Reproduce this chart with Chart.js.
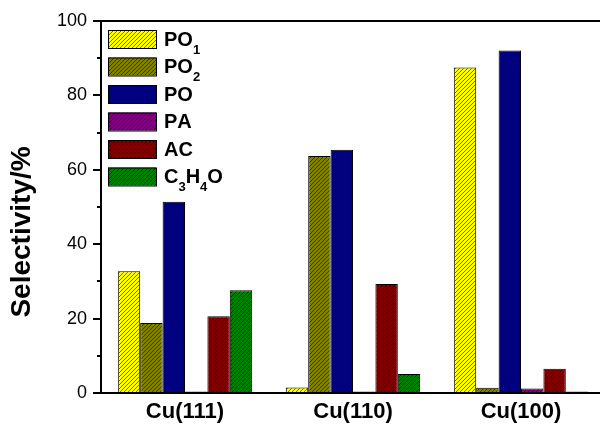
<!DOCTYPE html>
<html>
<head>
<meta charset="utf-8">
<script src="https://cdn.jsdelivr.net/npm/chart.js@4/dist/chart.umd.min.js"></script>
<style>
  html, body { margin: 0; padding: 0; background: #fff; overflow: hidden; width: 600px; height: 425px; }
  #wrap { width: 610px; height: 425px; }
</style>
</head>
<body>
<div id="wrap"><canvas id="c" width="610" height="425"></canvas></div>
<script>
// ---- data ----
const categories = ['Cu(111)', 'Cu(110)', 'Cu(100)'];
const seriesLabels = ['PO₁', 'PO₂', 'PO', 'PA', 'AC', 'C₃H₄O'];
const PO1   = [32.7, 1.5, 87.5];
const PO2   = [18.8, 63.7, 1.4];
const PO    = [51.4, 65.4, 92.1];
const PA    = [0.4, 0.4, 1.2];
const AC    = [20.6, 29.3, 6.5];
const C3H4O = [27.6, 5.1, 0.4];
const yTicks = [0, 20, 40, 60, 80, 100];
const yMinorTicks = [10, 30, 50, 70, 90];
const yTitle = 'Selectivity/%';

const FONT = '"Liberation Sans", Arial, sans-serif';

function hatch(bg, line) {
  const s = 4;
  const c = document.createElement('canvas');
  c.width = s; c.height = s;
  const g = c.getContext('2d');
  g.fillStyle = bg; g.fillRect(0, 0, s, s);
  g.strokeStyle = line; g.lineWidth = 1;
  g.beginPath();
  g.moveTo(-1, s + 1); g.lineTo(s + 1, -1);
  g.moveTo(-1, 1); g.lineTo(1, -1);
  g.moveTo(s - 1, s + 1); g.lineTo(s + 1, s - 1);
  g.stroke();
  return document.getElementById('c').getContext('2d').createPattern(c, 'repeat');
}

const fills = [
  hatch('#FFFF00', 'rgba(0,0,0,0.55)'),
  hatch('#808000', '#3c3c00'),
  hatch('#000080', '#00004a'),
  hatch('#800080', '#3c003c'),
  hatch('#800000', '#3c0000'),
  hatch('#008000', '#003c00')
];
const seriesData = [PO1, PO2, PO, PA, AC, C3H4O];

const datasets = seriesData.map((d, i) => ({
  label: seriesLabels[i],
  data: d,
  backgroundColor: fills[i],
  borderColor: '#000',
  borderWidth: 1,
  borderSkipped: 'bottom',
  categoryPercentage: 0.8,
  barPercentage: 1.0
}));

// draw text where subscript digits (₀-₉) are rendered smaller and lower
function drawSubText(ctx, text, x, y, size, subSize) {
  let cx = x;
  for (const ch of text) {
    const code = ch.codePointAt(0);
    if (code >= 0x2080 && code <= 0x2089) {
      const d = String(code - 0x2080);
      ctx.font = 'bold ' + subSize + 'px ' + FONT;
      ctx.fillText(d, cx, y + 10);
      cx += ctx.measureText(d).width;
    } else {
      ctx.font = 'bold ' + size + 'px ' + FONT;
      ctx.fillText(ch, cx, y);
      cx += ctx.measureText(ch).width;
    }
  }
}

const extras = {
  id: 'extras',
  afterDraw(chart) {
    const ctx = chart.ctx;
    const a = chart.chartArea;
    const ys = chart.scales.y;
    ctx.save();
    // frame top
    ctx.strokeStyle = '#000';
    ctx.lineWidth = 2;
    ctx.beginPath();
    ctx.moveTo(a.left, a.top);
    ctx.lineTo(a.right, a.top);
    ctx.stroke();
    // minor ticks
    ctx.beginPath();
    yMinorTicks.forEach(v => {
      const py = Math.round(ys.getPixelForValue(v));
      ctx.moveTo(a.left - 4, py);
      ctx.lineTo(a.left, py);
    });
    ctx.stroke();
    // y title
    ctx.fillStyle = '#000';
    ctx.font = 'bold 28px ' + FONT;
    ctx.textAlign = 'center';
    ctx.textBaseline = 'middle';
    ctx.translate(22, 232);
    ctx.rotate(-Math.PI / 2);
    ctx.fillText(yTitle, 0, 0);
    ctx.setTransform(1, 0, 0, 1, 0, 0);
    // legend
    const lx = 108, ly = 30, bw = 48, bh = 18, step = 27.5;
    chart.data.datasets.forEach((ds, i) => {
      const y = ly + i * step;
      ctx.fillStyle = ds.backgroundColor;
      ctx.fillRect(lx, y, bw, bh);
      ctx.strokeStyle = '#000';
      ctx.lineWidth = 1;
      ctx.strokeRect(lx + 0.5, y + 0.5, bw, bh);
      ctx.fillStyle = '#000';
      ctx.textAlign = 'left';
      ctx.textBaseline = 'middle';
      drawSubText(ctx, ds.label, 164, y + bh / 2 + 1, 20, 13);
    });
    ctx.restore();
  }
};

new Chart(document.getElementById('c'), {
  type: 'bar',
  data: { labels: categories, datasets },
  options: {
    responsive: false,
    animation: false,
    layout: { padding: { top: 21, right: 5, left: 0, bottom: 0 } },
    plugins: { legend: { display: false }, tooltip: { enabled: false } },
    scales: {
      x: {
        grid: { display: false, drawTicks: false },
        border: { display: true, color: '#000', width: 2 },
        ticks: { color: '#000', font: { family: FONT, size: 22, weight: 'bold' }, padding: 6, maxRotation: 0 },
        afterFit(s) { s.height = 32; }
      },
      y: {
        min: 0, max: 100,
        grid: { drawOnChartArea: false, drawTicks: true, tickLength: 8, color: '#000', lineWidth: 2 },
        border: { display: true, color: '#000', width: 2 },
        afterBuildTicks(s) { s.ticks = yTicks.map(v => ({ value: v })); },
        ticks: { color: '#000', font: { family: FONT, size: 18 }, padding: 6 },
        afterFit(s) { s.width = 101; }
      }
    }
  },
  plugins: [extras]
});
</script>
</body>
</html>
